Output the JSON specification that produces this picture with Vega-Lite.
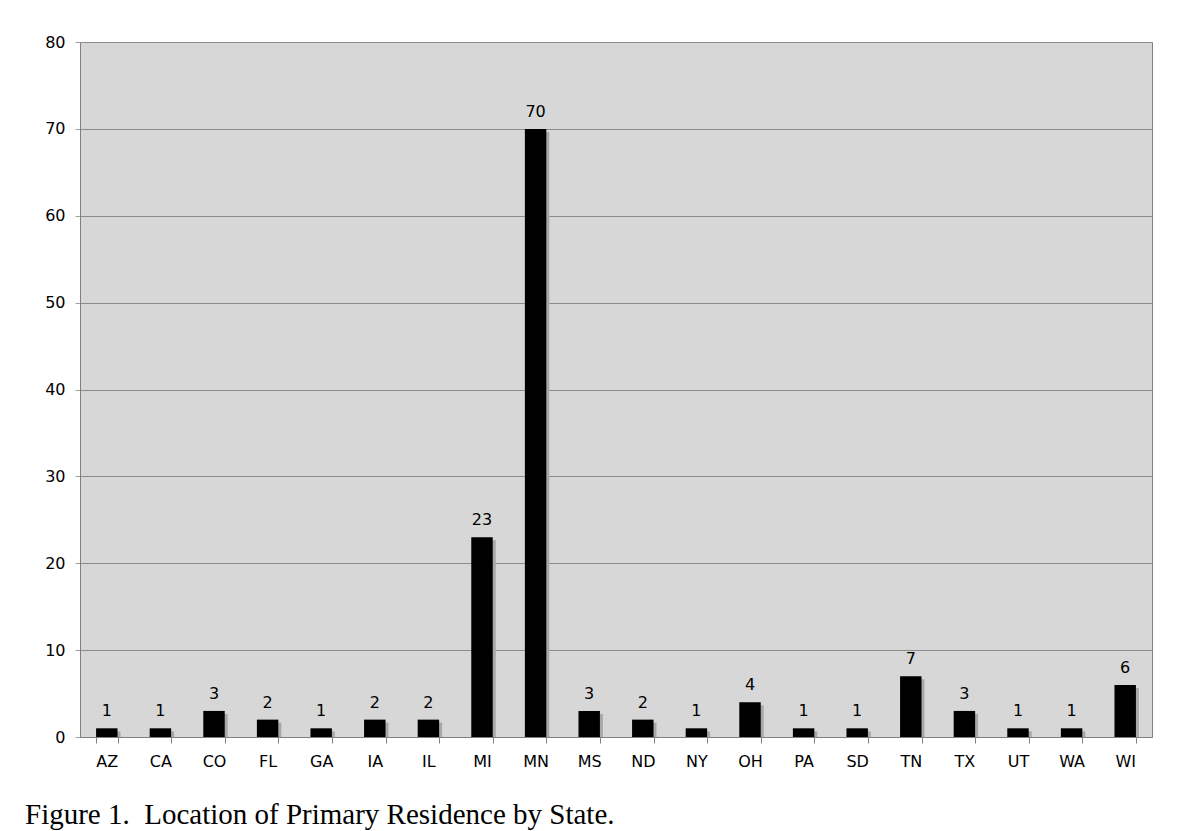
{
  "$schema": "https://vega.github.io/schema/vega-lite/v6.json",
  "width": 1072,
  "height": 695,
  "autosize": {"type": "none"},
  "padding": {"left": 80, "top": 42, "right": 34, "bottom": 94},
  "background": "white",
  "data": {"values": [
    {"state": "AZ", "count": 1}, {"state": "CA", "count": 1}, {"state": "CO", "count": 3},
    {"state": "FL", "count": 2}, {"state": "GA", "count": 1}, {"state": "IA", "count": 2},
    {"state": "IL", "count": 2}, {"state": "MI", "count": 23}, {"state": "MN", "count": 70},
    {"state": "MS", "count": 3}, {"state": "ND", "count": 2}, {"state": "NY", "count": 1},
    {"state": "OH", "count": 4}, {"state": "PA", "count": 1}, {"state": "SD", "count": 1},
    {"state": "TN", "count": 7}, {"state": "TX", "count": 3}, {"state": "UT", "count": 1},
    {"state": "WA", "count": 1}, {"state": "WI", "count": 6}
  ]},
  "title": {
    "text": "Figure 1.\u00a0 Location of Primary Residence by State.",
    "orient": "bottom",
    "anchor": "start",
    "frame": "group",
    "dx": -55,
    "offset": 32,
    "font": "Liberation Serif",
    "fontSize": 29,
    "fontWeight": "normal",
    "color": "black"
  },
  "encoding": {
    "x": {
      "field": "state", "type": "nominal", "sort": null,
      "scale": {"paddingInner": 0.6, "paddingOuter": 0.3},
      "axis": {
        "title": null, "labelAngle": 0, "tickBand": "extent",
        "labelFont": "DejaVu Sans", "labelFontSize": 16, "labelColor": "black",
        "labelPadding": 10, "tickSize": 6, "tickColor": "#808080",
        "domainColor": "#808080", "grid": false
      }
    },
    "y": {
      "field": "count", "type": "quantitative",
      "scale": {"domain": [0, 80]},
      "axis": {
        "title": null, "values": [0, 10, 20, 30, 40, 50, 60, 70, 80],
        "labelFont": "DejaVu Sans", "labelFontSize": 16, "labelColor": "black",
        "labelPadding": 10, "tickSize": 5, "tickColor": "#a0a0a0",
        "domainColor": "#808080", "gridColor": "#8c8c8c", "gridOpacity": 1
      }
    }
  },
  "layer": [
    {"mark": {"type": "bar", "color": "#a8a8a8", "xOffset": 3, "yOffset": 3, "clip": true}},
    {"mark": {"type": "bar", "color": "black"}},
    {"mark": {"type": "text", "dy": -17, "font": "DejaVu Sans", "fontSize": 16, "color": "black"},
     "encoding": {"text": {"field": "count", "type": "quantitative"}}}
  ],
  "config": {
    "view": {"fill": "#d7d7d7", "stroke": "#808080", "strokeWidth": 1}
  }
}
